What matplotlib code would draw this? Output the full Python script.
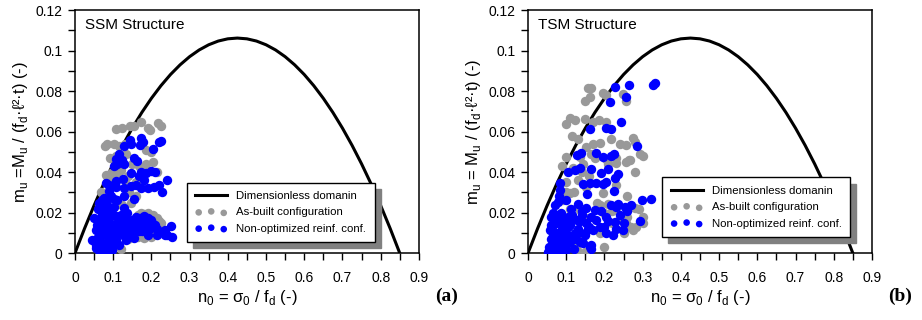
import matplotlib
matplotlib.use("Agg")
import matplotlib.pyplot as plt

plt.rcParams['font.family'] = ['Liberation Sans', 'DejaVu Sans']
plt.rcParams['mathtext.fontset'] = 'custom'
plt.rcParams['mathtext.rm'] = 'Liberation Sans'

# dimensionless domain
dom_n = [0, 0.025, 0.05, 0.075, 0.1, 0.125, 0.15, 0.175, 0.2, 0.225, 0.25, 0.275, 0.3,
         0.325, 0.35, 0.375, 0.4, 0.425, 0.45, 0.475, 0.5, 0.525, 0.55, 0.575, 0.6,
         0.625, 0.65, 0.675, 0.7, 0.725, 0.75, 0.775, 0.8, 0.825, 0.85]
dom_m = [0, 0.01213, 0.02353, 0.03419, 0.04412, 0.05331, 0.06176, 0.06949, 0.07647,
         0.08272, 0.08824, 0.09301, 0.09706, 0.10037, 0.10294, 0.10478, 0.10588, 0.10625,
         0.10588, 0.10478, 0.10294, 0.10037, 0.09706, 0.09301, 0.08824, 0.08272, 0.07647,
         0.06949, 0.06176, 0.05331, 0.04412, 0.03419, 0.02353, 0.01213, 0]

# SSM structure - as-built
ssm_ab_n = [0.107, 0.124, 0.144, 0.155, 0.172, 0.190, 0.196, 0.218, 0.224,
            0.079, 0.085, 0.102, 0.115, 0.131, 0.092, 0.107, 0.133, 0.185, 0.198,
            0.168, 0.185, 0.205, 0.150, 0.115, 0.080, 0.094, 0.111, 0.177, 0.216,
            0.133, 0.159, 0.142, 0.107, 0.063, 0.124, 0.146, 0.172, 0.190, 0.203,
            0.225, 0.212, 0.181, 0.111, 0.063, 0.080, 0.115, 0.155, 0.089, 0.067,
            0.098, 0.120, 0.140, 0.160, 0.085, 0.070, 0.130, 0.165, 0.190, 0.210,
            0.165, 0.180, 0.200, 0.215, 0.220, 0.095, 0.120, 0.140, 0.200, 0.070]
ssm_ab_m = [0.0612, 0.062, 0.063, 0.063, 0.065, 0.062, 0.061, 0.0645, 0.063,
            0.0527, 0.054, 0.054, 0.053, 0.054, 0.047, 0.048, 0.049, 0.051, 0.050,
            0.043, 0.044, 0.045, 0.044, 0.043, 0.0387, 0.0395, 0.039, 0.041, 0.040,
            0.034, 0.035, 0.030, 0.026, 0.024, 0.024, 0.025, 0.020, 0.020, 0.019,
            0.015, 0.0115, 0.0074, 0.004, 0.0115, 0.0066, 0.018, 0.0099, 0.033, 0.030,
            0.036, 0.041, 0.038, 0.028, 0.015, 0.019, 0.012, 0.008, 0.014, 0.010,
            0.019, 0.0195, 0.0185, 0.0175, 0.016, 0.0005, 0.002, 0.007, 0.008, 0.021]

# SSM structure - non-optimized reinforcement
ssm_nr_n = [0.144, 0.146, 0.174, 0.177, 0.171, 0.203, 0.220, 0.226, 0.128, 0.115,
            0.108, 0.124, 0.128, 0.111, 0.155, 0.163, 0.102, 0.146, 0.172, 0.185,
            0.198, 0.210, 0.168, 0.181, 0.126, 0.108, 0.080, 0.089, 0.107, 0.128,
            0.146, 0.159, 0.172, 0.190, 0.207, 0.220, 0.242, 0.229, 0.155, 0.128,
            0.089, 0.102, 0.080, 0.063, 0.076,
            0.050, 0.072, 0.098, 0.120, 0.137, 0.159, 0.181, 0.198, 0.177, 0.150,
            0.126, 0.107, 0.089, 0.063, 0.054, 0.080, 0.115, 0.142, 0.168, 0.190,
            0.216, 0.235, 0.251, 0.253, 0.235, 0.045, 0.063, 0.080, 0.098, 0.072,
            0.089, 0.054, 0.107, 0.133, 0.155, 0.063, 0.094, 0.120, 0.198, 0.076,
            0.102, 0.128, 0.060, 0.070, 0.082, 0.090, 0.066, 0.078, 0.086, 0.094,
            0.058, 0.074, 0.084, 0.100, 0.112, 0.068, 0.092, 0.080, 0.062, 0.104,
            0.118, 0.140, 0.160, 0.175, 0.210, 0.150, 0.132, 0.088, 0.076, 0.096,
            0.055, 0.060, 0.065, 0.070, 0.075, 0.080, 0.085, 0.090, 0.095, 0.100,
            0.105, 0.110, 0.115, 0.118, 0.065, 0.078, 0.092, 0.060, 0.072, 0.085,
            0.098, 0.108, 0.125, 0.135, 0.145, 0.155, 0.165, 0.175, 0.185, 0.195,
            0.205, 0.215, 0.225, 0.240, 0.130, 0.150, 0.170, 0.190, 0.060, 0.070,
            0.085, 0.095, 0.110]
ssm_nr_m = [0.056, 0.054, 0.0568, 0.0547, 0.0535, 0.0514, 0.0548, 0.0556, 0.0527, 0.049,
            0.0464, 0.046, 0.044, 0.044, 0.047, 0.0453, 0.0428, 0.0395, 0.0403, 0.0395,
            0.0408, 0.040, 0.0379, 0.0362, 0.0367, 0.0354, 0.0346, 0.0337, 0.0329, 0.0321,
            0.0332, 0.0337, 0.0321, 0.0321, 0.0329, 0.0337, 0.0359, 0.030, 0.0267, 0.028,
            0.0305, 0.0267, 0.0263, 0.0247, 0.0272,
            0.0173, 0.0214, 0.0198, 0.019, 0.020, 0.018, 0.0184, 0.0165, 0.0148, 0.0156,
            0.0148, 0.0132, 0.0156, 0.0165, 0.0115, 0.0115, 0.0099, 0.0091, 0.0107, 0.0091,
            0.0091, 0.0091, 0.0135, 0.0079, 0.0115, 0.0066, 0.0041, 0.0025, 0.0033, 0.0008,
            0.0008, 0.0025, 0.0063, 0.0066, 0.0074, 0.0082, 0.0074, 0.0127, 0.0123, 0.0184,
            0.023, 0.0222, 0.0020, 0.0050, 0.0015, 0.0045, 0.0090, 0.0100, 0.0060, 0.0020,
            0.0140, 0.0190, 0.0170, 0.0120, 0.0150, 0.0030, 0.0110, 0.0040, 0.0120, 0.0060,
            0.0130, 0.0150, 0.0120, 0.0160, 0.0140, 0.0130, 0.0170, 0.0210, 0.0200, 0.0015,
            0.004, 0.008, 0.012, 0.016, 0.003, 0.009, 0.013, 0.0175, 0.002, 0.007,
            0.010, 0.015, 0.004, 0.018, 0.0005, 0.0005, 0.001, 0.014, 0.019, 0.005,
            0.012, 0.0185, 0.009, 0.0115, 0.014, 0.012, 0.0135, 0.011, 0.015, 0.012,
            0.0145, 0.012, 0.0105, 0.009, 0.017, 0.0165, 0.0175, 0.0175, 0.022, 0.026,
            0.024, 0.028, 0.026]

# TSM structure - as-built
tsm_ab_n = [0.157, 0.166, 0.148, 0.161, 0.196, 0.205, 0.257, 0.249, 0.099, 0.109,
            0.122, 0.148, 0.170, 0.186, 0.203, 0.116, 0.131, 0.151, 0.170, 0.188,
            0.218, 0.240, 0.257, 0.275, 0.279, 0.292, 0.099, 0.135, 0.166, 0.205,
            0.231, 0.257, 0.266, 0.131, 0.153, 0.196, 0.231, 0.092, 0.109, 0.188,
            0.209, 0.231, 0.279, 0.301, 0.283, 0.275, 0.257, 0.244, 0.127, 0.109,
            0.188, 0.153, 0.135, 0.083, 0.118, 0.145, 0.175, 0.210, 0.100, 0.160,
            0.220, 0.250, 0.190, 0.140, 0.080, 0.265, 0.230,
            0.200, 0.220, 0.240, 0.260, 0.270, 0.250, 0.290, 0.300, 0.130, 0.150,
            0.200, 0.180, 0.110, 0.120, 0.100, 0.140, 0.090, 0.260, 0.280, 0.300]
tsm_ab_m = [0.0816, 0.0816, 0.0754, 0.077, 0.079, 0.078, 0.0754, 0.0787, 0.064, 0.067,
            0.0656, 0.0664, 0.065, 0.066, 0.065, 0.058, 0.0566, 0.0525, 0.054, 0.0544,
            0.0566, 0.0538, 0.0533, 0.057, 0.055, 0.049, 0.0475, 0.0475, 0.049, 0.0467,
            0.0443, 0.045, 0.0459, 0.036, 0.0328, 0.0295, 0.0336, 0.0262, 0.0295, 0.0238,
            0.0243, 0.0221, 0.0221, 0.018, 0.0131, 0.0115, 0.0148, 0.018, 0.0016, 0.0033,
            0.0098, 0.0172, 0.0213, 0.018, 0.0420, 0.0440, 0.0470, 0.0440, 0.0300, 0.0380,
            0.0150, 0.0120, 0.0120, 0.0060, 0.0080, 0.0460, 0.0470,
            0.020, 0.021, 0.017, 0.018, 0.013, 0.010, 0.022, 0.015, 0.005, 0.0005,
            0.003, 0.025, 0.022, 0.030, 0.035, 0.040, 0.043, 0.028, 0.040, 0.048]

# TSM structure - non-optimized reinforcement
tsm_nr_n = [0.227, 0.264, 0.327, 0.332, 0.214, 0.256, 0.244, 0.205, 0.216, 0.161,
            0.284, 0.127, 0.139, 0.177, 0.196, 0.218, 0.224, 0.105, 0.122, 0.137,
            0.166, 0.192, 0.209, 0.236, 0.083, 0.144, 0.161, 0.179, 0.196, 0.205,
            0.227, 0.224, 0.154, 0.083, 0.079, 0.100, 0.131, 0.153, 0.175, 0.218,
            0.236, 0.253, 0.299, 0.321, 0.292, 0.065, 0.083, 0.105, 0.127, 0.153,
            0.179, 0.205, 0.227, 0.249, 0.222, 0.057, 0.074, 0.100, 0.122, 0.148,
            0.170, 0.188, 0.205, 0.052, 0.065, 0.083, 0.100, 0.109, 0.135, 0.161,
            0.166, 0.074, 0.092, 0.060, 0.070, 0.088, 0.096, 0.066, 0.078, 0.090,
            0.114, 0.140, 0.118, 0.086, 0.072, 0.062, 0.104, 0.130, 0.158, 0.112,
            0.055, 0.060, 0.065, 0.070, 0.075, 0.080, 0.085, 0.090, 0.095, 0.100,
            0.105, 0.110, 0.115, 0.120, 0.125, 0.130, 0.135, 0.140, 0.145, 0.150,
            0.160, 0.165, 0.070, 0.090, 0.200, 0.210, 0.230, 0.240, 0.260, 0.270,
            0.250, 0.230, 0.190, 0.070, 0.080, 0.060, 0.165]
tsm_nr_m = [0.0823, 0.0833, 0.0833, 0.084, 0.0746, 0.077, 0.0648, 0.0618, 0.0615, 0.0615,
            0.0528, 0.0484, 0.0495, 0.0495, 0.0475, 0.0479, 0.0489, 0.0402, 0.041, 0.0423,
            0.0418, 0.0397, 0.0418, 0.039, 0.0348, 0.034, 0.0348, 0.0344, 0.0341, 0.0352,
            0.0369, 0.0307, 0.0292, 0.0311, 0.0254, 0.0262, 0.0243, 0.0221, 0.0213, 0.0238,
            0.0243, 0.0226, 0.0262, 0.0266, 0.0161, 0.0197, 0.0164, 0.018, 0.0164, 0.0148,
            0.0164, 0.018, 0.0156, 0.0115, 0.009, 0.0115, 0.0098, 0.0131, 0.0098, 0.0098,
            0.0115, 0.0131, 0.0098, 0.0008, 0.0049, 0.0033, 0.0016, 0.0057, 0.0057, 0.003,
            0.0041, 0.0066, 0.0082, 0.0140, 0.0180, 0.0120, 0.0060, 0.0090, 0.0020, 0.0150,
            0.0170, 0.0190, 0.0080, 0.0200, 0.0150, 0.0040, 0.0130, 0.0100, 0.0120, 0.0220,
            0.003, 0.007, 0.011, 0.015, 0.019, 0.002, 0.006, 0.012, 0.017, 0.004,
            0.009, 0.014, 0.019, 0.002, 0.007, 0.012, 0.016, 0.021, 0.005, 0.009,
            0.013, 0.018, 0.0005, 0.0005, 0.013, 0.016, 0.012, 0.019, 0.021, 0.024,
            0.015, 0.023, 0.021, 0.024, 0.028, 0.018, 0.002]

panels = [
    ("SSM Structure", ssm_ab_n, ssm_ab_m, ssm_nr_n, ssm_nr_m, "(a)",
     "m$_\\mathregular{u}$ =M$_\\mathregular{u}$ / (f$_\\mathregular{d}$·ℓ²·t) (-)",
     (0.0813, 0.209, 0.373, 0.759), (0.325, 0.045)),
    ("TSM Structure", tsm_ab_n, tsm_ab_m, tsm_nr_n, tsm_nr_m, "(b)",
     "m$_\\mathregular{u}$ = M$_\\mathregular{u}$ / (f$_\\mathregular{d}$·ℓ²·t) (-)",
     (0.5727, 0.209, 0.373, 0.759), (0.39, 0.066)),
]

fig = plt.figure(figsize=(9.22, 3.2), dpi=100)

for title, abn, abm, nrn, nrm, tag, ylab, rect, leg_pos in panels:
    ax = fig.add_axes(rect)
    ax.plot(dom_n, dom_m, color='black', lw=2.2, label='Dimensionless domanin', zorder=3)
    ax.scatter(abn, abm, s=46, color='#999999', lw=0, label='As-built configuration', zorder=4)
    ax.scatter(nrn, nrm, s=46, color='#0000ff', lw=0, label='Non-optimized reinf. conf.', zorder=5)

    ax.set_xlim(0, 0.9)
    ax.set_ylim(0, 0.12)
    ax.set_xticks([0, 0.1, 0.2, 0.3, 0.4, 0.5, 0.6, 0.7, 0.8, 0.9])
    ax.set_xticklabels(['0', '0.1', '0.2', '0.3', '0.4', '0.5', '0.6', '0.7', '0.8', '0.9'])
    ax.set_xticks([0.05 + 0.1 * i for i in range(9)], minor=True)
    ax.set_yticks([0, 0.02, 0.04, 0.06, 0.08, 0.1, 0.12])
    ax.set_yticklabels(['0', '0.02', '0.04', '0.06', '0.08', '0.1', '0.12'])
    ax.set_yticks([0.01, 0.03, 0.05, 0.07, 0.09, 0.11], minor=True)
    ax.tick_params(which='both', direction='out', length=5, width=1, labelsize=10,
                   top=False, right=False)
    ax.tick_params(axis='x', pad=8)
    ax.tick_params(axis='y', pad=4)
    for sp in ax.spines.values():
        sp.set_linewidth(1.1)

    ax.set_xlabel("n$_\\mathregular{0}$ = σ$_\\mathregular{0}$ / f$_\\mathregular{d}$ (-)",
                  fontsize=12, labelpad=2)
    ax.set_ylabel(ylab, fontsize=12, labelpad=4)
    ax.text(0.03, 0.94, title, transform=ax.transAxes, fontsize=11, va='center')

    ax.legend(loc='lower left', bbox_to_anchor=leg_pos, scatterpoints=3, markerscale=0.7,
              fontsize=8.2, frameon=True, fancybox=False, framealpha=1, edgecolor='black',
              shadow={'color': '0.5', 'alpha': 1, 'ox': 4.5, 'oy': -4.5},
              handlelength=2.8, borderpad=0.75, labelspacing=0.55, borderaxespad=0)

    ax.text(rect[0] + rect[2] + 0.018, 0.075, tag, transform=fig.transFigure,
            fontsize=14, fontweight='bold', family='Liberation Serif', ha='left', va='center')

fig.savefig('out.png', dpi=100)
